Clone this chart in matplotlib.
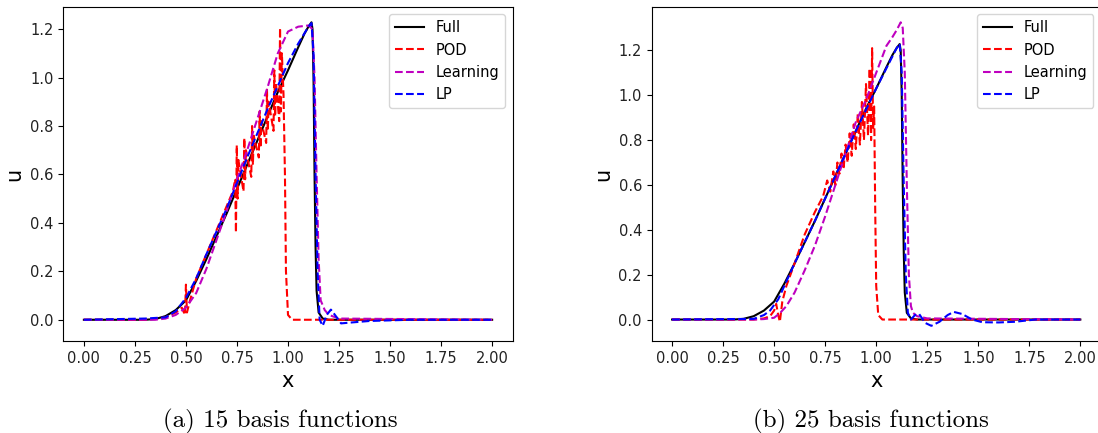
import matplotlib
matplotlib.use('Agg')
import matplotlib.pyplot as plt
import numpy as np

# reference solution (same in both panels)
full_x = [0.0, 0.30, 0.35, 0.40, 0.45, 0.50, 0.55, 0.60, 0.65, 0.70, 0.75, 0.80, 0.85, 0.90, 0.95,
          1.00, 1.05, 1.08, 1.10, 1.115, 1.12, 1.125, 1.13, 1.135, 1.14, 1.15, 1.17, 1.20, 2.0]
full_u = [0.0, 0.0, 0.003, 0.015, 0.04, 0.08, 0.16, 0.25, 0.345, 0.44, 0.54, 0.64, 0.74, 0.84, 0.94,
          1.03, 1.125, 1.18, 1.21, 1.228, 1.2, 1.0, 0.6, 0.3, 0.12, 0.03, 0.005, 0.0, 0.0]

# (a) 15 basis functions
pod15_x = [0.0, 0.30, 0.40, 0.45, 0.48, 0.495, 0.50, 0.505, 0.52, 0.55, 0.60, 0.65, 0.70, 0.73,
           0.741, 0.745, 0.749, 0.753, 0.757,
           0.782, 0.786, 0.790, 0.794,
           0.820, 0.824, 0.828, 0.832,
           0.857, 0.861, 0.865, 0.869,
           0.893, 0.897, 0.901, 0.905,
           0.929, 0.933, 0.937, 0.941,
           0.957, 0.961, 0.965, 0.970,
           0.978, 0.985, 0.99, 1.0, 1.02, 2.0]
pod15_u = [0.0, 0.0, 0.01, 0.03, 0.05, 0.02, 0.145, 0.03, 0.08, 0.17, 0.27, 0.37, 0.47, 0.53,
           0.58, 0.36, 0.72, 0.50, 0.66,
           0.53, 0.75, 0.58, 0.70,
           0.59, 0.80, 0.64, 0.76,
           0.67, 0.86, 0.71, 0.82,
           0.73, 0.95, 0.78, 0.90,
           0.78, 1.03, 0.84, 0.98,
           0.82, 1.205, 0.86, 1.10,
           0.93, 0.60, 0.20, 0.02, 0.0, 0.0]

learn15_x = [0.0, 0.35, 0.40, 0.45, 0.50, 0.55, 0.60, 0.65, 0.70, 0.75, 0.80, 0.85, 0.90, 0.95, 1.00,
             1.05, 1.10, 1.12, 1.13, 1.14, 1.15, 1.16, 1.18, 1.20, 1.25, 2.0]
learn15_u = [0.0, 0.0, 0.005, 0.02, 0.05, 0.11, 0.21, 0.33, 0.45, 0.58, 0.70, 0.83, 0.96, 1.10, 1.19,
             1.21, 1.215, 1.2, 1.0, 0.6, 0.25, 0.08, 0.04, 0.02, 0.005, 0.0]

lp15_x = [0.0, 0.30, 0.40, 0.45, 0.50, 0.55, 0.60, 0.70, 0.80, 0.90, 1.00, 1.05, 1.10, 1.115, 1.125,
          1.135, 1.145, 1.155, 1.17, 1.19, 1.21, 1.23, 1.26, 1.30, 1.40, 1.60, 2.0]
lp15_u = [0.0, 0.005, 0.01, 0.035, 0.09, 0.17, 0.27, 0.46, 0.67, 0.87, 1.06, 1.14, 1.21, 1.225, 1.1,
          0.6, 0.2, 0.0, -0.025, 0.02, 0.042, 0.02, -0.015, -0.012, -0.005, 0.0, 0.0]

# (b) 25 basis functions
pod25_x = [0.0, 0.40, 0.45, 0.48, 0.50, 0.51, 0.52, 0.528, 0.54, 0.56, 0.60, 0.65, 0.70, 0.74, 0.76,
           0.775, 0.79, 0.80, 0.81, 0.82, 0.83, 0.84, 0.85, 0.86, 0.87, 0.88, 0.89, 0.90, 0.91,
           0.92, 0.93, 0.94, 0.95, 0.96, 0.968, 0.975, 0.98, 0.985, 0.99, 0.995, 1.0, 1.01, 1.03, 2.0]
pod25_u = [0.0, 0.0, 0.005, 0.015, 0.04, 0.07, 0.02, -0.01, 0.08, 0.15, 0.25, 0.38, 0.48, 0.55, 0.62,
           0.57, 0.66, 0.60, 0.70, 0.65, 0.74, 0.67, 0.78, 0.70, 0.83, 0.73, 0.87, 0.76, 0.92,
           0.78, 0.97, 0.80, 1.05, 0.82, 1.12, 0.80, 1.21, 0.85, 0.95, 0.5, 0.15, 0.02, 0.0, 0.0]

learn25_x = [0.0, 0.40, 0.45, 0.50, 0.53, 0.56, 0.60, 0.65, 0.70, 0.75, 0.80, 0.85, 0.90, 0.95, 1.00,
             1.05, 1.08, 1.10, 1.12, 1.13, 1.14, 1.15, 1.16, 1.17, 1.18, 1.20, 1.25, 2.0]
learn25_u = [0.0, 0.0, 0.002, 0.008, 0.03, 0.06, 0.12, 0.22, 0.33, 0.46, 0.60, 0.74, 0.88, 0.98, 1.10,
             1.22, 1.26, 1.29, 1.325, 1.30, 1.1, 0.6, 0.2, 0.06, 0.03, 0.015, 0.005, 0.0]

lp25_x = [0.0, 0.40, 0.45, 0.48, 0.50, 0.52, 0.55, 0.60, 0.70, 0.80, 0.90, 1.00, 1.05, 1.10, 1.115,
          1.125, 1.135, 1.145, 1.155, 1.17, 1.19, 1.21, 1.24, 1.27, 1.31, 1.35, 1.38, 1.42, 1.47,
          1.52, 1.60, 1.68, 1.78, 2.0]
lp25_u = [0.0, 0.003, 0.02, 0.04, 0.065, 0.09, 0.15, 0.25, 0.44, 0.64, 0.84, 1.03, 1.12, 1.21, 1.23,
          1.1, 0.6, 0.2, 0.03, 0.0, 0.02, 0.025, -0.015, -0.028, -0.01, 0.02, 0.034, 0.025, 0.0,
          -0.012, -0.013, -0.01, 0.0, 0.0]

captions = ['(a) 15 basis functions', '(b) 25 basis functions']
panels = [(pod15_x, pod15_u, learn15_x, learn15_u, lp15_x, lp15_u),
          (pod25_x, pod25_u, learn25_x, learn25_u, lp25_x, lp25_u)]

fig = plt.figure(figsize=(10.98, 4.33), dpi=100)
lefts = [0.0578, 0.5935]
caption_x = [0.255, 0.793]
for i, (px, pu, lx, lu, bx, bu) in enumerate(panels):
    ax = fig.add_axes([lefts[i], 0.2125, 0.409, 0.771])
    ax.plot(full_x, full_u, 'k-', label='Full')
    ax.plot(px, pu, 'r--', label='POD')
    ax.plot(lx, lu, 'm--', label='Learning')
    ax.plot(bx, bu, 'b--', label='LP')
    ax.set_xticks(np.arange(0, 2.01, 0.25))
    ax.tick_params(labelsize=10.5, labelcolor='#222222')
    ax.set_xlabel('x', fontsize=15)
    ax.set_ylabel('u', fontsize=15)
    ax.legend(loc='upper right', fontsize=10.5)
    fig.text(caption_x[i], 0.027, captions[i], ha='center', va='center',
             family='cmr10', fontsize=18)

fig.savefig('out.png', dpi=100)
